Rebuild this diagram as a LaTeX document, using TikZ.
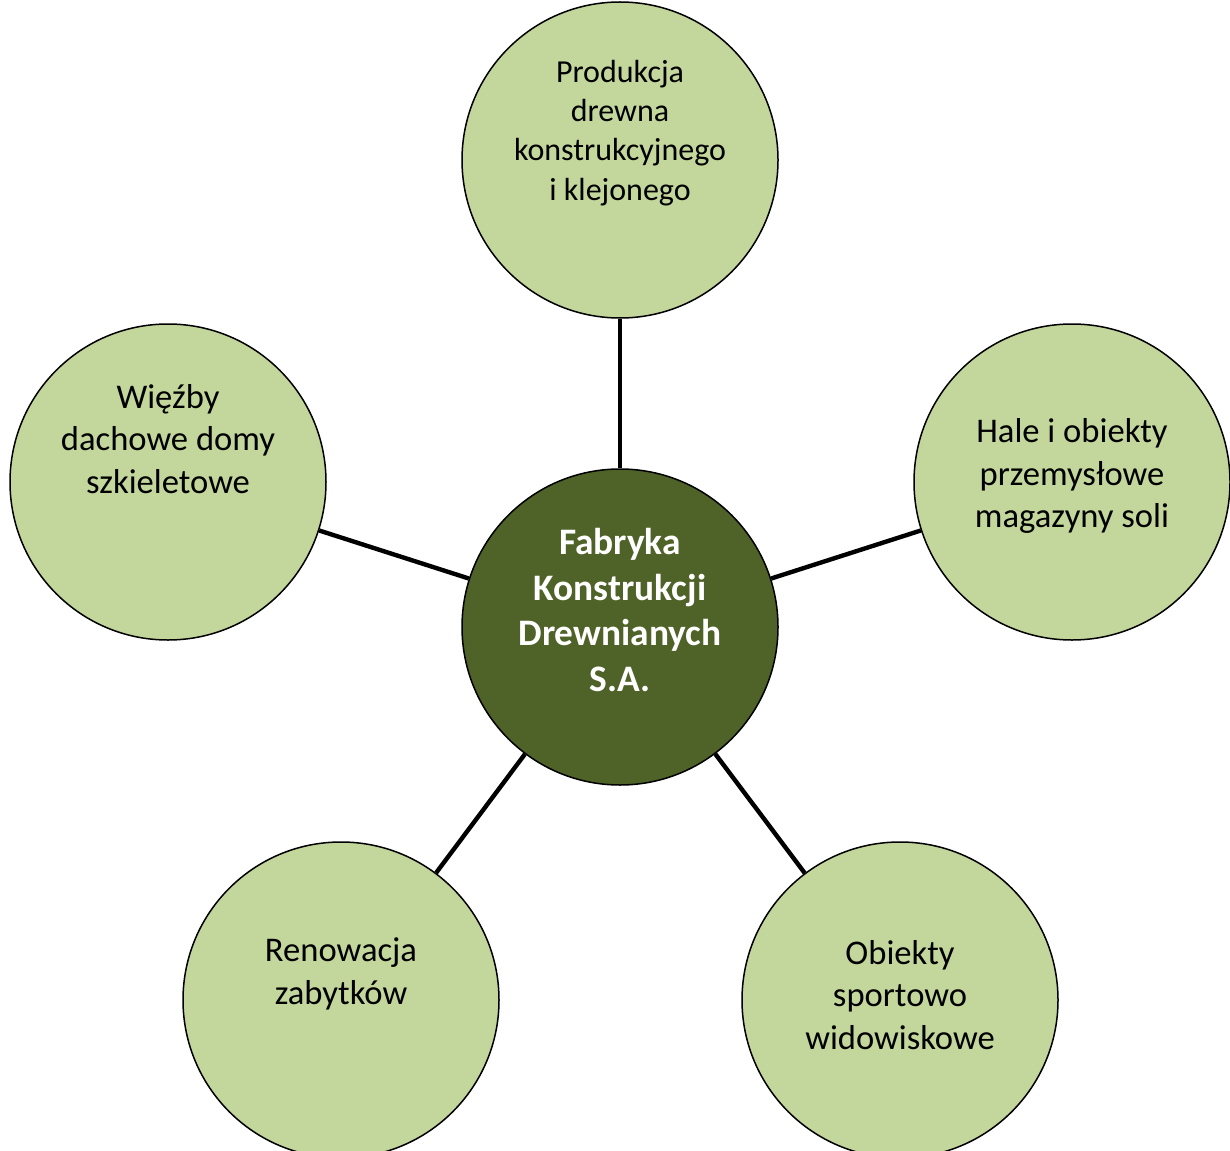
\documentclass[tikz,border=0pt]{standalone}
\usepackage{fontspec}
\setmainfont{Carlito}
\definecolor{leaf}{HTML}{C3D69B}
\definecolor{bark}{HTML}{4F6228}
\begin{document}
\begin{tikzpicture}[x=0.5pt,y=-0.5pt]
	\tikzset{disc/.style={circle, draw=black, line width=0.75pt, fill=leaf, minimum size=158pt, inner sep=0pt},
		txt/.style={align=center, font=\fontsize{17.3}{21.2}\selectfont},
		spoke/.style={line width=2.2pt}
	}
	\useasboundingbox (0,0) rectangle (1230,1150);
	\node (hub) at (620,627) [disc, fill=bark] {};
	\node (top) at (620,160) [disc] {};
	\node (right) at (1072,482) [disc] {};
	\node (left) at (168,482) [disc] {};
	\node (bleft) at (341,1000) [disc] {};
	\node (bright) at (900,1000) [disc] {};

	\node (hubt) at (620,610) [txt, text=white, font=\fontsize{18.7}{22.9}\selectfont\bfseries] {Fabryka\\Konstrukcji\\Drewnianych\\S.A.};
	\node (topt) at (620,133) [txt, font=\fontsize{16}{19.6}\selectfont] {Produkcja\\drewna\\konstrukcyjnego\\i klejonego};
	\node (rightt) at (1072,476) [txt] {Hale i obiekty\\przemysłowe\\magazyny soli};
	\node (leftt) at (168,439) [txt] {Więźby\\dachowe domy\\szkieletowe};
	\node (blefts) at (341,974) [txt] {Renowacja\\zabytków};
	\node (brightt) at (900,995) [txt] {Obiekty\\sportowo\\widowiskowe};

	\draw[spoke] (hub) -- (top);
	\draw[spoke] (hub) -- (right);
	\draw[spoke] (hub) -- (left);
	\draw[spoke] (hub) -- (bleft);
	\draw[spoke] (hub) -- (bright);
\end{tikzpicture}
\end{document}
